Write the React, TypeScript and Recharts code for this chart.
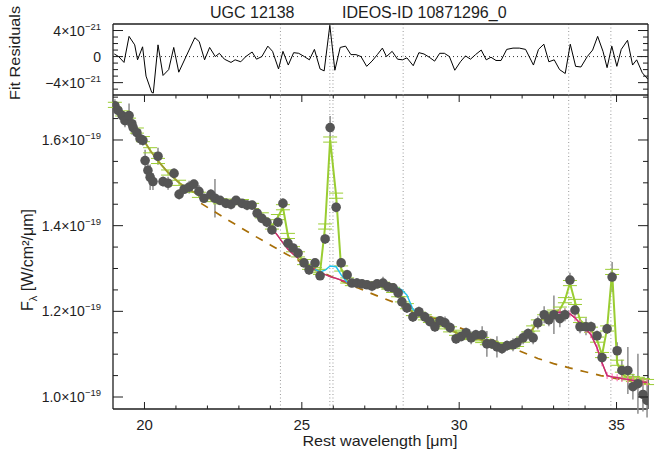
import { ComposedChart, Line, Scatter, XAxis, YAxis, ReferenceLine, ErrorBar } from 'recharts';

// flux density in units of 1e-19 W/cm2/um, wavelength in um
const wavelength = [
  19.06, 19.16, 19.29, 19.38, 19.51, 19.6, 19.64, 19.76, 19.86, 19.95, 20.02, 20.11, 20.18, 20.27, 20.43, 20.59,
  20.75, 20.94, 21.1, 21.26, 21.42, 21.57, 21.73, 21.89, 22.11, 22.24, 22.4, 22.59, 22.75, 22.91, 23.1, 23.26,
  23.42, 23.58, 23.73, 23.89, 24.05, 24.24, 24.4, 24.56, 24.72, 24.88, 25.07, 25.23, 25.42, 25.58, 25.74, 25.9,
  26.09, 26.25, 26.44, 26.59, 26.75, 26.91, 27.07, 27.23, 27.39, 27.58, 27.74, 27.9, 28.06, 28.18, 28.34, 28.53,
  28.72, 28.91, 29.07, 29.23, 29.39, 29.55, 29.71, 29.9, 30.06, 30.22, 30.38, 30.53, 30.73, 30.88, 31.04, 31.2,
  31.36, 31.52, 31.71, 31.84, 32.03, 32.19, 32.35, 32.5, 32.7, 32.85, 33.01, 33.2, 33.36, 33.52, 33.68, 33.84,
  34.03, 34.19, 34.38, 34.54, 34.7, 34.86, 35.02, 35.17, 35.36, 35.52, 35.68, 35.84, 35.97,
];
const flux = [
  1.68, 1.669, 1.657, 1.645, 1.657, 1.638, 1.629, 1.617, 1.603, 1.599, 1.552, 1.529, 1.513, 1.503, 1.562, 1.503,
  1.499, 1.522, 1.473, 1.485, 1.49, 1.497, 1.48, 1.464, 1.473, 1.464, 1.459, 1.452, 1.45, 1.459, 1.452, 1.448,
  1.448, 1.429, 1.417, 1.408, 1.39, 1.408, 1.452, 1.359, 1.348, 1.336, 1.313, 1.297, 1.313, 1.283, 1.369, 1.629,
  1.443, 1.313, 1.285, 1.266, 1.266, 1.264, 1.262, 1.259, 1.264, 1.266, 1.257, 1.255, 1.243, 1.222, 1.208, 1.187,
  1.199, 1.187, 1.176, 1.164, 1.178, 1.173, 1.162, 1.136, 1.141, 1.15, 1.138, 1.145, 1.145, 1.124, 1.124, 1.117,
  1.113, 1.12, 1.122, 1.127, 1.138, 1.148, 1.138, 1.173, 1.192, 1.18, 1.192, 1.183, 1.192, 1.273, 1.203, 1.164,
  1.164, 1.164, 1.143, 1.092, 1.159, 1.28, 1.108, 1.062, 1.062, 1.024, 1.031, 1.006, 0.992,
];
const fluxErr = [
  0.015, 0.012, 0.012, 0.015, 0.028, 0.025, 0.015, 0.012, 0.015, 0.012, 0.025, 0.015, 0.03, 0.02, 0.02, 0.012,
  0.015, 0.012, 0.012, 0.01, 0.015, 0.01, 0.015, 0.01, 0.012, 0.045, 0.01, 0.01, 0.012, 0.01, 0.01, 0.012,
  0.01, 0.012, 0.01, 0.012, 0.01, 0.01, 0.012, 0.012, 0.01, 0.01, 0.01, 0.012, 0.01, 0.01, 0.012, 0.027,
  0.012, 0.01, 0.012, 0.01, 0.012, 0.01, 0.01, 0.012, 0.01, 0.015, 0.01, 0.01, 0.012, 0.015, 0.012, 0.012,
  0.012, 0.012, 0.01, 0.012, 0.01, 0.015, 0.012, 0.012, 0.01, 0.012, 0.015, 0.012, 0.02, 0.03, 0.012, 0.025,
  0.012, 0.012, 0.015, 0.012, 0.015, 0.012, 0.015, 0.015, 0.02, 0.015, 0.045, 0.02, 0.015, 0.017, 0.015, 0.015,
  0.02, 0.012, 0.012, 0.015, 0.012, 0.035, 0.02, 0.025, 0.055, 0.03, 0.07, 0.04, 0.04,
];

// fit: total model and model without the atomic lines
const fitWl = [
  19.06, 19.29, 19.51, 19.76, 19.95, 20.18, 20.43, 20.75, 21.1, 21.42, 21.73, 22.11, 22.4, 22.75, 23.1, 23.42, 23.73,
  24.05, 24.24, 24.4, 24.56, 24.72, 24.88, 25.07, 25.23, 25.42, 25.58, 25.74, 25.9, 26.09, 26.25, 26.44, 26.59,
  26.75, 26.91, 27.07, 27.23, 27.39, 27.58, 27.74, 27.9, 28.06, 28.18, 28.34, 28.53, 28.72, 28.91, 29.07, 29.23,
  29.39, 29.55, 29.71, 29.9, 30.06, 30.22, 30.38, 30.53, 30.73, 30.88, 31.04, 31.2, 31.36, 31.52, 31.71, 31.84,
  32.03, 32.19, 32.35, 32.5, 32.7, 32.85, 33.01, 33.2, 33.36, 33.52, 33.68, 33.84, 34.03, 34.19, 34.38, 34.54,
  34.7, 34.86, 35.02, 35.17, 35.36, 35.52, 35.68, 35.84, 35.97,
];
const fitTotal = [
  1.682, 1.662, 1.645, 1.622, 1.602, 1.576, 1.551, 1.524, 1.5, 1.484, 1.472, 1.462, 1.457, 1.456, 1.455, 1.446, 1.424,
  1.398, 1.42, 1.443, 1.376, 1.345, 1.333, 1.315, 1.304, 1.296, 1.292, 1.398, 1.601, 1.47, 1.3, 1.272, 1.266,
  1.265, 1.264, 1.262, 1.261, 1.262, 1.262, 1.258, 1.25, 1.24, 1.228, 1.212, 1.196, 1.192, 1.186, 1.18, 1.174,
  1.17, 1.165, 1.158, 1.15, 1.146, 1.143, 1.14, 1.137, 1.133, 1.128, 1.124, 1.121, 1.118, 1.118, 1.12, 1.124,
  1.134, 1.146, 1.16, 1.174, 1.186, 1.192, 1.197, 1.204, 1.226, 1.266, 1.222, 1.18, 1.166, 1.157, 1.134, 1.098,
  1.16, 1.292, 1.08, 1.052, 1.046, 1.042, 1.04, 1.037, 1.035,
];
const fitNoLines = [
  1.682, 1.662, 1.645, 1.622, 1.602, 1.576, 1.551, 1.524, 1.5, 1.484, 1.472, 1.462, 1.457, 1.456, 1.455, 1.446, 1.424,
  1.394, 1.376, 1.36, 1.345, 1.334, 1.324, 1.313, 1.305, 1.298, 1.291, 1.286, 1.281, 1.277, 1.273, 1.268, 1.266,
  1.265, 1.264, 1.262, 1.261, 1.262, 1.262, 1.258, 1.25, 1.24, 1.228, 1.212, 1.196, 1.192, 1.186, 1.18, 1.174,
  1.17, 1.165, 1.158, 1.15, 1.146, 1.143, 1.14, 1.137, 1.133, 1.128, 1.124, 1.121, 1.118, 1.118, 1.12, 1.124,
  1.134, 1.146, 1.16, 1.174, 1.186, 1.192, 1.197, 1.198, 1.197, 1.194, 1.185, 1.172, 1.158, 1.145, 1.115, 1.08,
  1.05, 1.047, 1.045, 1.043, 1.041, 1.039, 1.037, 1.035, 1.034,
];

// magenta: model below the blended lines
const magAWl = [24.05, 24.24, 24.4, 24.56, 24.72, 24.88];
const magAFlux = [1.394, 1.376, 1.36, 1.345, 1.334, 1.324];
const magBWl = [25.23, 25.42, 25.58, 25.74, 25.9, 26.09, 26.25, 26.44, 26.59];
const magBFlux = [1.305, 1.298, 1.291, 1.286, 1.281, 1.277, 1.273, 1.268, 1.266];
const magCWl = [33.01, 33.2, 33.36, 33.52, 33.68, 33.84, 34.03, 34.19, 34.38, 34.54, 34.7, 34.86, 35.02, 35.17, 35.36, 35.52, 35.68, 35.84, 35.97];
const magCFlux = [1.197, 1.198, 1.197, 1.194, 1.185, 1.172, 1.158, 1.145, 1.115, 1.08, 1.05, 1.047, 1.045, 1.043, 1.041, 1.039, 1.037, 1.035, 1.034];

// cyan: weak lines ([Fe II] 26.0, H2 S(0))
const cyanAWl = [25.42, 25.58, 25.74, 25.9, 26.09, 26.25, 26.44];
const cyanAFlux = [1.298, 1.292, 1.296, 1.306, 1.304, 1.285, 1.268];
const cyanBWl = [27.58, 27.74, 27.9, 28.06, 28.18, 28.34, 28.53, 28.72];
const cyanBFlux = [1.263, 1.26, 1.257, 1.254, 1.25, 1.238, 1.205, 1.193];

// dashed continuum
const contWl = [21.8, 22.5, 23, 23.5, 24, 24.5, 25, 25.5, 26, 26.5, 27, 27.5, 28, 28.5, 29, 29.5, 30, 30.5, 31, 31.5, 32, 32.5, 33, 33.5, 34, 34.5, 35, 35.5, 36];
const contFlux = [1.452, 1.42, 1.398, 1.376, 1.355, 1.334, 1.314, 1.296, 1.279, 1.263, 1.248, 1.233, 1.219, 1.205, 1.19, 1.176, 1.162, 1.148, 1.134, 1.12, 1.105, 1.09, 1.078, 1.068, 1.059, 1.05, 1.043, 1.037, 1.031];

// fit residuals, units of 1e-21
const resWl = [
  19.04, 19.18, 19.35, 19.51, 19.69, 19.78, 19.94, 20.05, 20.23, 20.28, 20.43, 20.59, 20.77, 20.93, 21.09, 21.6,
  21.74, 21.91, 22.07, 22.25, 22.38, 22.54, 22.75, 22.88, 23.06, 23.22, 23.42, 23.56, 23.73, 23.92, 24.07, 24.26,
  24.4, 24.57, 24.74, 24.9, 25.08, 25.24, 25.4, 25.58, 25.71, 25.89, 26.05, 26.22, 26.39, 26.56, 26.72, 26.88,
  27.06, 27.23, 27.4, 27.56, 27.69, 27.87, 28.04, 28.2, 28.34, 28.54, 28.72, 28.88, 29.05, 29.22, 29.38, 29.53,
  29.69, 29.86, 30.04, 30.2, 30.36, 30.52, 30.7, 30.86, 31.01, 31.17, 31.33, 31.51, 31.71, 31.91, 32.11, 32.36,
  32.52, 32.69, 32.85, 33.02, 33.19, 33.37, 33.53, 33.7, 33.87, 34.07, 34.24, 34.4, 34.57, 34.7, 34.85, 35.01,
  35.15, 35.35, 35.51, 35.64, 35.82, 36.0,
];
const resVal = [
  0.4, 0, -0.9, 3.1, 1.8, -0.5, 1.5, -3.0, -5.5, -5.6, 1.8, -2.9, -2.0, 1.4, -2.4, 2.9,
  2.3, -0.5, 1.4, 0, 0.5, -0.4, -0.9, -0.5, -0.8, 0, 0.7, -0.4, 0, 1.6, 0.8, -1.9,
  0.8, -1.3, 0.6, 0.5, 0, -0.5, 1.1, -1.9, -2.2, 4.8, -2.1, 1.4, 1.6, 0.3, 0.3, 0,
  -1.5, -0.7, 0.3, 1.3, 0, 0.8, -0.4, -0.5, -0.2, -1.4, 0.6, 0.4, -0.1, -0.7, 0.5, 0.5,
  0, -2.1, -0.8, 0.1, -0.4, 0.3, 1.0, -0.5, -0.1, -0.6, -0.6, 1.1, 1.3, 1.3, 1.1, -1.3,
  1.1, 1.9, -0.8, -0.5, -2.0, -2.6, 1.9, -1.5, -1.6, 0, 1.0, 3.1, 0.8, -1.7, 1.6, -1.5,
  1.1, 2.5, -1.3, -0.5, -2.5, -3.5,
];

const lineWl = [24.32, 25.89, 25.99, 28.22, 33.48, 34.82];
const xTicks = [20, 21, 22, 23, 24, 25, 26, 27, 28, 29, 30, 31, 32, 33, 34, 35];
const fluxTicks = [1.0, 1.05, 1.1, 1.15, 1.2, 1.25, 1.3, 1.35, 1.4, 1.45, 1.5, 1.55, 1.6, 1.65, 1.7];
const resTicks = [-5, -4, -3, -2, -1, 0, 1, 2, 3, 4];

const X_DOMAIN: [number, number] = [19, 36];
const FLUX_DOMAIN: [number, number] = [0.972, 1.705];
const RES_DOMAIN: [number, number] = [-5.9, 5.0];

// layout of the plot boxes
const PLOT_RIGHT = 648;
const MAIN_TOP = 95;

const pairs = (xs: number[], ys: number[]) => xs.map((x, i) => ({ x, y: ys[i] }));
const spectrum = wavelength.map((x, i) => ({ x, y: flux[i], e: fluxErr[i] }));
const residuals = pairs(resWl, resVal);

const FONT = '"Liberation Sans", Arial, Helvetica, sans-serif';
const INK = '#1e1e1e';

const isMajorX = (v: number) => v % 5 === 0;

// x ticks: inward marks on the bottom axis and the top frame of the main panel
function XTick({ x, y, payload }: any) {
  const v = payload.value;
  const len = isMajorX(v) ? 7 : 3.5;
  return (
    <g>
      <rect x={x - 0.5} y={y - len} width={1} height={len} fill={INK} />
      <rect x={x - 0.5} y={MAIN_TOP} width={1} height={len} fill={INK} />
      {isMajorX(v) && (
        <text x={x} y={y + 21} textAnchor="middle" fontFamily={FONT} fontSize={15} fill={INK}>
          {v}
        </text>
      )}
    </g>
  );
}

function FluxTick({ x, y, payload }: any) {
  const v = payload.value;
  const major = Math.round(v * 100) % 20 === 0;
  const len = major ? 10 : 5;
  return (
    <g>
      <rect x={x} y={y - 0.5} width={len} height={1} fill={INK} />
      <rect x={PLOT_RIGHT - len} y={y - 0.5} width={len} height={1} fill={INK} />
      {major && (
        <text x={x - 12} y={y + 5} textAnchor="end" fontFamily={FONT} fontSize={14} fill={INK}>
          {v.toFixed(1)}×10<tspan fontSize={9.5} dy={-6}>−19</tspan>
        </text>
      )}
    </g>
  );
}

function ResTick({ x, y, payload }: any) {
  const v = payload.value;
  const major = v % 4 === 0;
  const len = major ? 10 : 5;
  return (
    <g>
      <rect x={x} y={y - 0.5} width={len} height={1} fill={INK} />
      <rect x={PLOT_RIGHT - len} y={y - 0.5} width={len} height={1} fill={INK} />
      {major && (
        <text x={x - 12} y={y + 5} textAnchor="end" fontFamily={FONT} fontSize={14} fill={INK}>
          {v === 0 ? (
            '0'
          ) : (
            <>
              {v < 0 ? '−' : ''}
              {Math.abs(v)}×10<tspan fontSize={9.5} dy={-6}>−21</tspan>
            </>
          )}
        </text>
      )}
    </g>
  );
}

const DataDot = (p: any) => <circle cx={p.cx} cy={p.cy} r={4.8} fill="#555555" />;

function SpectrumPanel() {
  return (
    <ComposedChart width={665} height={453} margin={{ top: MAIN_TOP, right: 665 - PLOT_RIGHT, bottom: 0, left: 0 }}>
      <XAxis
        type="number"
        dataKey="x"
        domain={X_DOMAIN}
        ticks={xTicks}
        interval={0}
        height={44}
        tickSize={0}
        tickMargin={0}
        tickLine={false}
        axisLine={false}
        tick={<XTick />}
        allowDataOverflow
      />
      <YAxis
        type="number"
        domain={FLUX_DOMAIN}
        ticks={fluxTicks}
        interval={0}
        width={113}
        tickSize={0}
        tickMargin={0}
        tickLine={false}
        axisLine={false}
        tick={<FluxTick />}
        allowDataOverflow
      />
      {lineWl.map((w) => (
        <ReferenceLine key={w} x={w} stroke="#9a9a9a" strokeDasharray="1 2.5" />
      ))}
      {X_DOMAIN.map((v) => (
        <ReferenceLine key={'fx' + v} x={v} stroke={INK} strokeWidth={1.3} ifOverflow="visible" />
      ))}
      {FLUX_DOMAIN.map((v) => (
        <ReferenceLine key={'fy' + v} y={v} stroke={INK} strokeWidth={1.3} ifOverflow="visible" />
      ))}
      <Scatter data={spectrum} dataKey="y" shape={DataDot} isAnimationActive={false}>
        <ErrorBar dataKey="e" direction="y" width={0} stroke="#8c8c8c" strokeWidth={1.5} />
      </Scatter>
      <Line
        data={pairs(contWl, contFlux)}
        dataKey="y"
        stroke="#a86f08"
        strokeWidth={1.7}
        strokeDasharray="8 8"
        dot={false}
        isAnimationActive={false}
      />
      <Line data={pairs(fitWl, fitTotal)} dataKey="y" stroke="#9acd32" strokeWidth={2} dot={false} isAnimationActive={false}>
        <ErrorBar dataKey={() => 0.006} direction="y" width={7} stroke="#9acd32" strokeWidth={1} />
      </Line>
      <Line data={pairs(fitWl, fitNoLines)} dataKey="y" stroke="#a39432" strokeWidth={1.3} dot={false} isAnimationActive={false} />
      <Line data={pairs(magAWl, magAFlux)} dataKey="y" stroke="#d0207a" strokeWidth={1.3} dot={false} isAnimationActive={false} />
      <Line data={pairs(magBWl, magBFlux)} dataKey="y" stroke="#d0207a" strokeWidth={1.3} dot={false} isAnimationActive={false} />
      <Line data={pairs(magCWl, magCFlux)} dataKey="y" stroke="#d0207a" strokeWidth={1.3} dot={false} isAnimationActive={false}>
        <ErrorBar dataKey={() => 0.008} direction="y" width={0} stroke="#ff7ab8" strokeWidth={1.2} />
      </Line>
      <Line data={pairs(cyanAWl, cyanAFlux)} dataKey="y" stroke="#22c4f0" strokeWidth={1.5} dot={false} isAnimationActive={false} />
      <Line data={pairs(cyanBWl, cyanBFlux)} dataKey="y" stroke="#22c4f0" strokeWidth={1.5} dot={false} isAnimationActive={false} />
    </ComposedChart>
  );
}

function ResidualPanel() {
  return (
    <ComposedChart width={665} height={100} margin={{ top: 24, right: 665 - PLOT_RIGHT, bottom: 0, left: 0 }}>
      <XAxis
        type="number"
        dataKey="x"
        domain={X_DOMAIN}
        height={100 - MAIN_TOP}
        tick={false}
        tickLine={false}
        axisLine={false}
        allowDataOverflow
      />
      <YAxis
        type="number"
        domain={RES_DOMAIN}
        ticks={resTicks}
        interval={0}
        width={113}
        tickSize={0}
        tickMargin={0}
        tickLine={false}
        axisLine={false}
        tick={<ResTick />}
        allowDataOverflow
      />
      {lineWl.map((w) => (
        <ReferenceLine key={w} x={w} stroke="#9a9a9a" strokeDasharray="1 2.5" />
      ))}
      {X_DOMAIN.map((v) => (
        <ReferenceLine key={'rx' + v} x={v} stroke={INK} strokeWidth={1.3} ifOverflow="visible" />
      ))}
      <ReferenceLine y={RES_DOMAIN[1]} stroke={INK} strokeWidth={1.3} ifOverflow="visible" />
      <ReferenceLine y={0} stroke="#333" strokeDasharray="1 3" />
      <Line data={residuals} dataKey="y" stroke="#000" strokeWidth={1} dot={false} isAnimationActive={false} />
    </ComposedChart>
  );
}

export default function App() {
  return (
    <div style={{ position: 'absolute', left: 0, top: 0, width: 665, height: 453, background: '#fff' }}>
      <div style={{ position: 'absolute', left: 0, top: 0 }}>
        <SpectrumPanel />
      </div>
      <div style={{ position: 'absolute', left: 0, top: 0 }}>
        <ResidualPanel />
      </div>
      <svg
        width={665}
        height={453}
        style={{ position: 'absolute', left: 0, top: 0, pointerEvents: 'none' }}
        fontFamily={FONT}
        fill={INK}
      >
        <text x={210} y={18} fontSize={16}>
          UGC 12138
        </text>
        <text x={342} y={18} fontSize={16}>
          IDEOS-ID 10871296_0
        </text>
        <text x={380} y={446} fontSize={15} textAnchor="middle" textLength={155} lengthAdjust="spacingAndGlyphs">
          Rest wavelength [μm]
        </text>
        <text transform="translate(20,53) rotate(-90)" fontSize={15} textAnchor="middle" textLength={94} lengthAdjust="spacingAndGlyphs">
          Fit Residuals
        </text>
        <text transform="translate(33,260) rotate(-90)" fontSize={16} textAnchor="middle">
          F<tspan fontSize={11} dy={4}>λ</tspan>
          <tspan dy={-4}> [W/cm²/μm]</tspan>
        </text>
      </svg>
    </div>
  );
}
